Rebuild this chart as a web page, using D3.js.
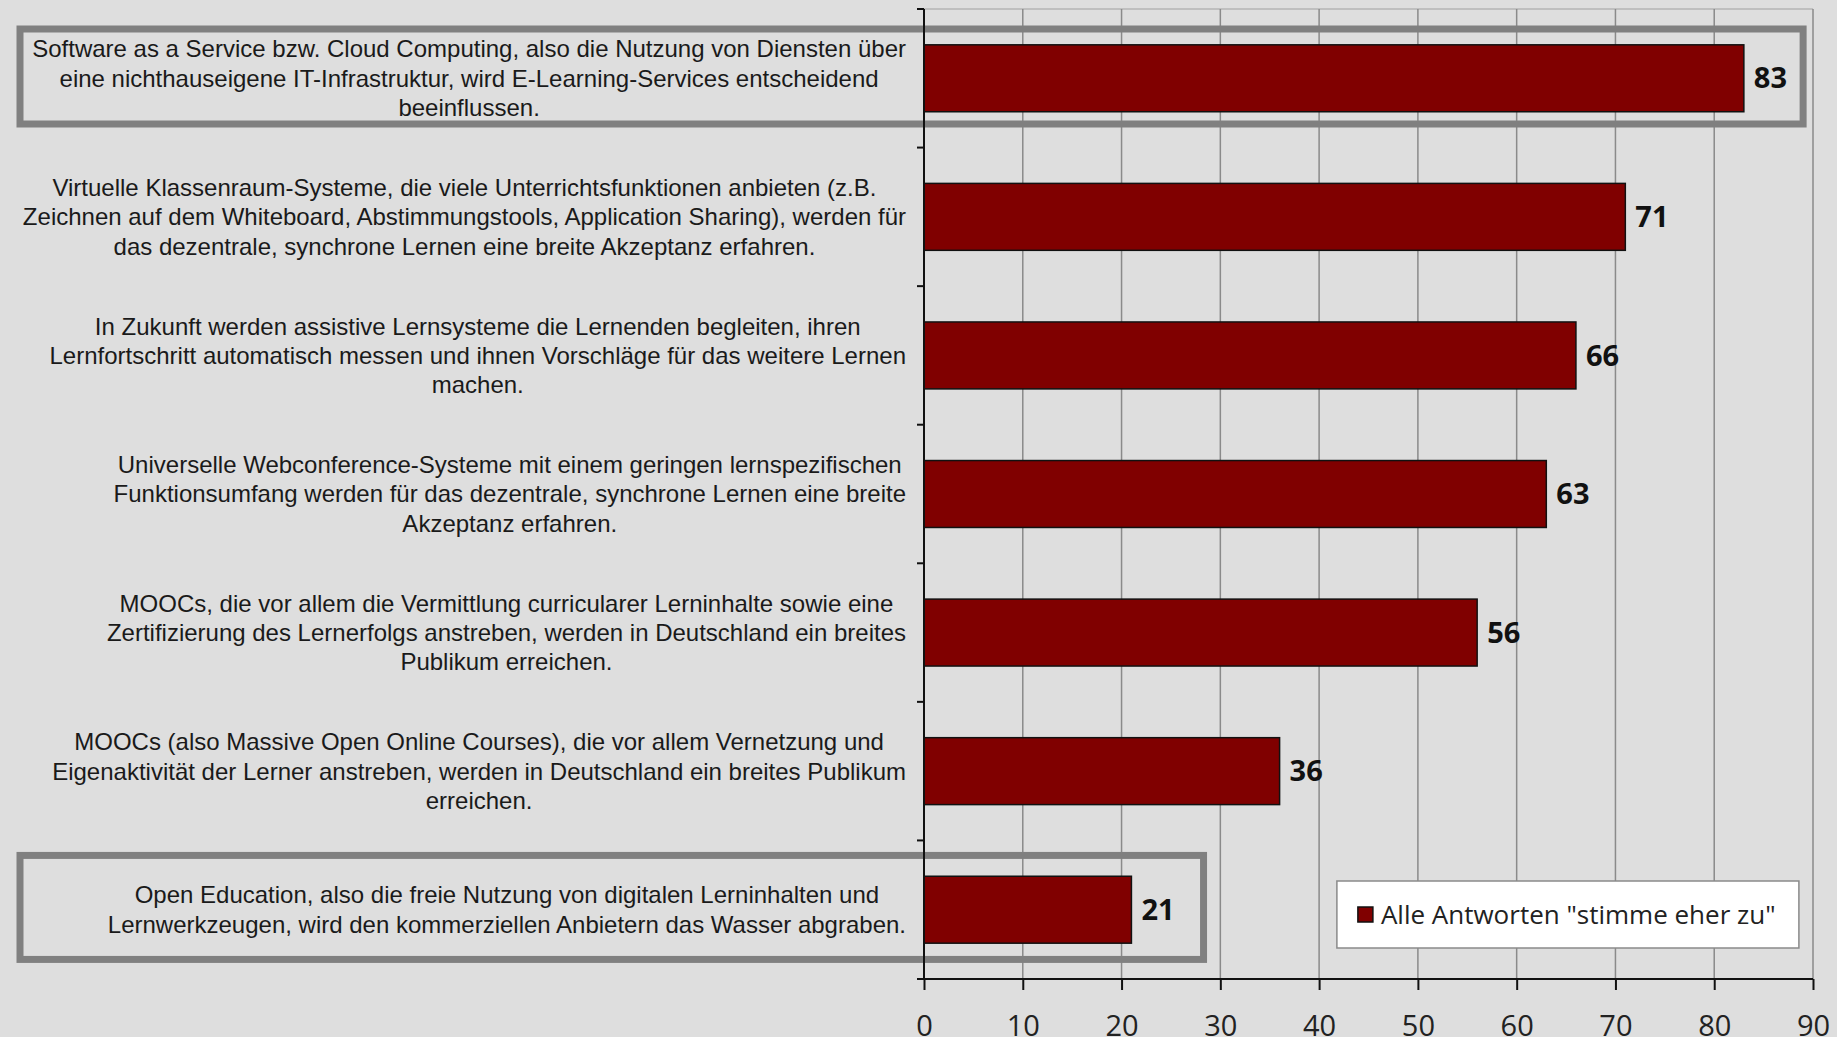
<!DOCTYPE html>
<html>
<head>
<meta charset="utf-8">
<script src="https://cdn.jsdelivr.net/npm/d3@7"></script>
<style>
  html, body { margin: 0; padding: 0; background: #dedede; }
  svg { display: block; }
</style>
</head>
<body>
<div id="chart"></div>
<script>
// category labels, already wrapped the way the original shows them
const categories = [
    ["Software as a Service bzw. Cloud Computing, also die Nutzung von Diensten über",
     "eine nichthauseigene IT-Infrastruktur, wird E-Learning-Services entscheidend",
     "beeinflussen."],
    ["Virtuelle Klassenraum-Systeme, die viele Unterrichtsfunktionen anbieten (z.B.",
     "Zeichnen auf dem Whiteboard, Abstimmungstools, Application Sharing), werden für",
     "das dezentrale, synchrone Lernen eine breite Akzeptanz erfahren."],
    ["In Zukunft werden assistive Lernsysteme die Lernenden begleiten, ihren",
     "Lernfortschritt automatisch messen und ihnen Vorschläge für das weitere Lernen",
     "machen."],
    ["Universelle Webconference-Systeme mit einem geringen lernspezifischen",
     "Funktionsumfang werden für das dezentrale, synchrone Lernen eine breite",
     "Akzeptanz erfahren."],
    ["MOOCs, die vor allem die Vermittlung curricularer Lerninhalte sowie eine",
     "Zertifizierung des Lernerfolgs anstreben, werden in Deutschland ein breites",
     "Publikum erreichen."],
    ["MOOCs (also Massive Open Online Courses), die vor allem Vernetzung und",
     "Eigenaktivität der Lerner anstreben, werden in Deutschland ein breites Publikum",
     "erreichen."],
    ["Open Education, also die freie Nutzung von digitalen Lerninhalten und",
     "Lernwerkzeugen, wird den kommerziellen Anbietern das Wasser abgraben."]
];
const values = [83, 71, 66, 63, 56, 36, 21];
const xTicks = [0, 10, 20, 30, 40, 50, 60, 70, 80, 90];
const seriesName = 'Alle Antworten "stimme eher zu"';
// grey frames around two of the rows: row index and where the frame ends on the value axis
const highlightRows = [0, 6];
const highlightEnds = [89, 28.3];

const width = 1837, height = 1037;
const plotLeft = 924, plotRight = 1813, plotTop = 9, plotBottom = 979;

const svg = d3.select("#chart").append("svg")
    .attr("width", width)
    .attr("height", height);

svg.append("rect")
    .attr("width", width)
    .attr("height", height)
    .attr("fill", "#dedede");

const x = d3.scaleLinear()
    .domain([0, 90])
    .range([plotLeft, plotRight]);

const y = d3.scaleBand()
    .domain(d3.range(categories.length))
    .range([plotTop, plotBottom])
    .paddingInner(0.517)
    .paddingOuter(0.2585);

const step = y.step();

// gridlines
svg.append("line")
    .attr("x1", plotLeft).attr("x2", plotRight)
    .attr("y1", plotTop).attr("y2", plotTop)
    .attr("stroke", "#b4b4b4").attr("stroke-width", 1.5);

svg.append("g")
    .selectAll("line")
    .data(xTicks.slice(1))
    .join("line")
    .attr("x1", d => x(d)).attr("x2", d => x(d))
    .attr("y1", plotTop).attr("y2", plotBottom)
    .attr("stroke", "#8a8a8a")
    .attr("stroke-width", 1.5);

// bars
svg.append("g")
    .selectAll("rect")
    .data(values)
    .join("rect")
    .attr("x", x(0))
    .attr("y", (d, i) => y(i))
    .attr("width", d => x(d) - x(0))
    .attr("height", y.bandwidth())
    .attr("fill", "#800000")
    .attr("stroke", "#111")
    .attr("stroke-width", 1.5);

// value labels
svg.append("g")
    .selectAll("text")
    .data(values)
    .join("text")
    .attr("x", d => x(d) + 10)
    .attr("y", (d, i) => y(i) + y.bandwidth() / 2)
    .attr("dy", "0.35em")
    .attr("font-family", "'Open Sans', 'DejaVu Sans', sans-serif")
    .attr("font-size", 29)
    .attr("font-weight", 700)
    .attr("fill", "#111")
    .text(d => d);

// highlight frames
svg.append("g")
    .selectAll("rect")
    .data(highlightRows)
    .join("rect")
    .attr("x", 20)
    .attr("y", (r, i) => y(r) - y.step() * y.paddingInner() / 2 + (i === 0 ? 20 : 15))
    .attr("width", (r, i) => x(highlightEnds[i]) - 20)
    .attr("height", (r, i) => i === 0 ? 95 : 104)
    .attr("fill", "none")
    .attr("stroke", "#808080")
    .attr("stroke-width", 7);

// x axis
const xAxis = svg.append("g")
    .attr("transform", `translate(0,${plotBottom})`)
    .call(d3.axisBottom(x).tickValues(xTicks).tickSize(11).tickSizeOuter(0).tickPadding(25));

xAxis.select(".domain")
    .attr("d", `M${plotLeft - 7},0H${plotRight}`)
    .attr("stroke", "#111").attr("stroke-width", 2);
xAxis.selectAll(".tick line").attr("stroke", "#111").attr("stroke-width", 2);
xAxis.selectAll(".tick text")
    .attr("font-family", "'Open Sans', 'DejaVu Sans', sans-serif")
    .attr("font-size", 29)
    .attr("fill", "#222");

// y axis: line with ticks at the category boundaries
const yAxis = svg.append("g");
yAxis.append("line")
    .attr("x1", plotLeft).attr("x2", plotLeft)
    .attr("y1", plotTop).attr("y2", plotBottom)
    .attr("stroke", "#111").attr("stroke-width", 2);
yAxis.selectAll(".ytick")
    .data(d3.range(categories.length + 1))
    .join("line")
    .attr("class", "ytick")
    .attr("x1", plotLeft - 7).attr("x2", plotLeft)
    .attr("y1", i => plotTop + i * step).attr("y2", i => plotTop + i * step)
    .attr("stroke", "#111").attr("stroke-width", 2);

// category labels: lines centred inside a block whose right edge sits left of the axis
const lineHeight = 29.3;
const labelRight = 906;
categories.forEach((lines, i) => {
    const g = svg.append("g");
    const cy = y(i) + y.bandwidth() / 2;
    const texts = g.selectAll("text")
        .data(lines)
        .join("text")
        .attr("x", 0)
        .attr("y", (d, j) => cy + (j - (lines.length - 1) / 2) * lineHeight)
        .attr("dy", "0.35em")
        .attr("text-anchor", "middle")
        .attr("font-family", "'Liberation Sans', Arial, sans-serif")
        .attr("font-size", 24)
        .attr("fill", "#1a1a1a")
        .text(d => d);
    let maxW = 0;
    texts.each(function() { maxW = Math.max(maxW, this.getComputedTextLength()); });
    g.attr("transform", `translate(${labelRight - maxW / 2},0)`);
});

// legend
const legend = svg.append("g")
    .attr("transform", `translate(${x(41.8)},${plotBottom - 98})`);

legend.append("rect")
    .attr("width", 462)
    .attr("height", 67)
    .attr("fill", "#fff")
    .attr("stroke", "#8a8a8a")
    .attr("stroke-width", 1.5);

legend.append("rect")
    .attr("x", 21).attr("y", 26)
    .attr("width", 15).attr("height", 15)
    .attr("fill", "#800000")
    .attr("stroke", "#111")
    .attr("stroke-width", 1.5);

legend.append("text")
    .attr("x", 44)
    .attr("y", 34)
    .attr("dy", "0.35em")
    .attr("font-family", "'Open Sans', 'DejaVu Sans', sans-serif")
    .attr("font-size", 26)
    .attr("fill", "#222")
    .text(seriesName);
</script>
</body>
</html>
